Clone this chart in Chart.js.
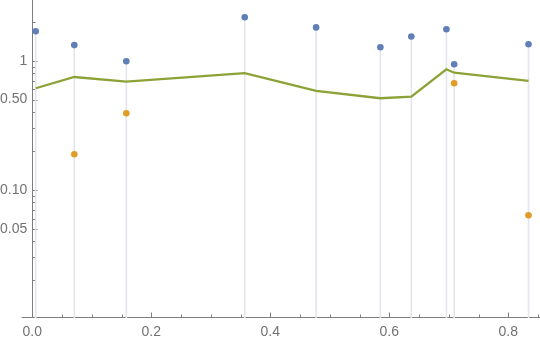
<!DOCTYPE html>
<html>
<head>
<meta charset="utf-8">
<script src="https://cdn.jsdelivr.net/npm/chart.js@4.4.1/dist/chart.umd.min.js"></script>
<style>
  html, body { margin: 0; padding: 0; background: #fff; }
  #wrap { width: 540px; height: 341px; }
</style>
</head>
<body>
<div id="wrap"><canvas id="chart"></canvas></div>
<script>
// data
const xValues = [0.0057, 0.0706, 0.158, 0.357, 0.477, 0.585, 0.637, 0.696, 0.709, 0.834];
const blueValues = [1.69, 1.32, 0.99, 2.17, 1.81, 1.27, 1.54, 1.75, 0.938, 1.34];
const greenValues = [0.612, 0.748, 0.688, 0.80, 0.583, 0.512, 0.527, 0.858, 0.807, 0.697];
const orangeX = [0.0706, 0.158, 0.709, 0.834];
const orangeValues = [0.189, 0.392, 0.669, 0.0637];

// axes
const xMin = -0.0086, xMax = 0.8533;
const yMin = 0.0102, yMax = 2.95;
const xTickValues = [0, 0.2, 0.4, 0.6, 0.8];
const xTickLabels = ["0.0", "0.2", "0.4", "0.6", "0.8"];
const xMinorTicks = [0.05, 0.1, 0.15, 0.25, 0.3, 0.35, 0.45, 0.5, 0.55, 0.65, 0.7, 0.75, 0.85];
const yTickValues = [0.05, 0.1, 0.5, 1];
const yTickLabels = ["0.05", "0.10", "0.50", "1"];
const yMinorTicks = [0.02, 0.03, 0.04, 0.06, 0.07, 0.08, 0.09, 0.2, 0.3, 0.4, 0.6, 0.7, 0.8, 0.9, 2];

const axisColor = "#7d7d7d";

// axis lines + inward ticks, Mathematica style
const axesPlugin = {
  id: "axesPlugin",
  beforeDatasetsDraw(chart) {
    const { ctx, chartArea } = chart;
    const xs = chart.scales.x, ys = chart.scales.y;
    const x0 = Math.round(xs.getPixelForValue(0)) + 0.5;
    const yB = Math.round(ys.getPixelForValue(yMin)) - 0.5;
    ctx.save();
    ctx.strokeStyle = axisColor;
    ctx.lineWidth = 1;
    ctx.beginPath();
    // x axis sticks out a little to the left of the y axis
    ctx.moveTo(chartArea.left - 5.5, yB);
    ctx.lineTo(chartArea.right, yB);
    ctx.moveTo(x0, chartArea.top);
    ctx.lineTo(x0, yB);
    xTickValues.forEach(v => {
      const p = Math.round(xs.getPixelForValue(v)) + 0.5;
      ctx.moveTo(p, yB); ctx.lineTo(p, yB - 5);
    });
    xMinorTicks.forEach(v => {
      const p = Math.round(xs.getPixelForValue(v)) + 0.5;
      ctx.moveTo(p, yB); ctx.lineTo(p, yB - 3);
    });
    yTickValues.forEach(v => {
      const p = Math.round(ys.getPixelForValue(v)) + 0.5;
      ctx.moveTo(x0, p); ctx.lineTo(x0 + 5, p);
    });
    yMinorTicks.forEach(v => {
      const p = Math.round(ys.getPixelForValue(v)) + 0.5;
      ctx.moveTo(x0, p); ctx.lineTo(x0 + 3, p);
    });
    ctx.stroke();
    ctx.restore();
  }
};

const stems = xValues.map((x, i) => ({ x: x, y: [yMin, blueValues[i]] }));
const bluePts = xValues.map((x, i) => ({ x: x, y: blueValues[i] }));
const greenPts = xValues.map((x, i) => ({ x: x, y: greenValues[i] }));
const orangePts = orangeX.map((x, i) => ({ x: x, y: orangeValues[i] }));

new Chart(document.getElementById("chart"), {
  type: "scatter",
  data: {
    datasets: [
      {
        type: "scatter",
        data: bluePts,
        backgroundColor: "#5f7fb6",
        borderWidth: 0,
        pointRadius: 3.3,
        order: 1,
      },
      {
        type: "scatter",
        data: orangePts,
        backgroundColor: "#e09c26",
        borderWidth: 0,
        pointRadius: 3.3,
        order: 1,
      },
      {
        type: "line",
        data: greenPts,
        borderColor: "#8ca236",
        borderWidth: 2.3,
        pointRadius: 0,
        fill: false,
        tension: 0,
        order: 2,
      },
      {
        type: "bar",
        data: stems,
        backgroundColor: "#e3e6ec",
        borderWidth: 0,
        barThickness: 1,
        order: 3,
      },
    ],
  },
  options: {
    responsive: true,
    maintainAspectRatio: false,
    animation: false,
    layout: { padding: 0, autoPadding: false },
    plugins: {
      legend: { display: false },
      tooltip: { enabled: false },
    },
    scales: {
      x: {
        type: "linear",
        min: xMin,
        max: xMax,
        offset: false,
        grid: { display: false, drawTicks: false, offset: false },
        border: { display: false },
        afterBuildTicks: (scale) => {
          scale.ticks = xTickValues.map(v => ({ value: v }));
        },
        afterFit: (scale) => {
          scale.height = 23;
          scale.paddingLeft = 0;
          scale.paddingRight = 0;
        },
        ticks: {
          padding: 6,
          color: "#727272",
          font: { family: "Liberation Sans", size: 14 },
          maxRotation: 0,
          autoSkip: false,
          callback: (v) => xTickLabels[xTickValues.indexOf(v)],
        },
      },
      y: {
        type: "logarithmic",
        min: yMin,
        max: yMax,
        grid: { display: false, drawTicks: false },
        border: { display: false },
        afterBuildTicks: (scale) => {
          scale.ticks = yTickValues.map(v => ({ value: v }));
        },
        afterFit: (scale) => {
          scale.width = 27.2;
          scale.paddingTop = 0;
          scale.paddingBottom = 0;
        },
        ticks: {
          padding: 0,
          color: "#727272",
          font: { family: "Liberation Sans", size: 14 },
          autoSkip: false,
          callback: (v) => yTickLabels[yTickValues.indexOf(v)],
        },
      },
    },
  },
  plugins: [axesPlugin],
});
</script>
</body>
</html>
